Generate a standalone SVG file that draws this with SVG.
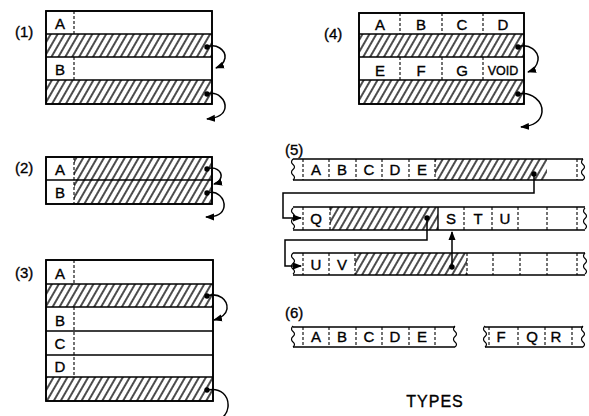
<svg xmlns="http://www.w3.org/2000/svg" width="589" height="416" viewBox="0 0 589 416">
<style>
text{font-family:"Liberation Sans",Arial,sans-serif;font-size:15px;fill:#000;stroke:#000;stroke-width:0.35;text-anchor:middle}
.lbl{text-anchor:start}
.box{fill:#fff;stroke:#000;stroke-width:1.6}
.ln{stroke:#000;stroke-width:1.4;fill:none}
.ds{stroke:#000;stroke-width:1.1;stroke-dasharray:3,2;fill:none}
.ht{fill:url(#h);stroke:none}
.cv{stroke:#000;stroke-width:1.5;fill:none;marker-end:url(#ah)}
.dot{fill:#000}
</style>
<defs>
<pattern id="h" width="6" height="6" patternUnits="userSpaceOnUse" patternTransform="rotate(30)">
<line x1="1" y1="-1" x2="1" y2="7" stroke="#000" stroke-width="1.4"/>
</pattern>
<marker id="ah" markerWidth="9" markerHeight="8" refX="8" refY="4" orient="auto" markerUnits="userSpaceOnUse">
<path d="M0,0.5 L9,4 L0,7.5 Z" fill="#000"/>
</marker>
<path id="wv" d="M0,0 q-3,3 0,5.5 q3,2.5 0,5 q-3,2.5 0,5.5 q3,2.5 0,5" fill="none" stroke="#000" stroke-width="1.2"/>
</defs>

<g id="panel1">
<text class="lbl" x="15" y="37">(1)</text>
<rect class="box" x="46" y="11" width="166" height="93"/>
<rect class="ht" x="46" y="34" width="166" height="23"/>
<rect class="ht" x="46" y="80" width="166" height="24"/>
<path class="ln" d="M46,34H212M46,57H212M46,80H212"/>
<rect x="46" y="11" width="166" height="93" fill="none" stroke="#000" stroke-width="1.6"/>
<path class="ds" d="M74,11V34M74,57V80"/>
<text x="60" y="29">A</text>
<text x="60" y="75">B</text>
<circle class="dot" cx="207" cy="47" r="2.7"/>
<circle class="dot" cx="207" cy="94" r="2.7"/>
</g>

<g id="panel2">
<text class="lbl" x="15" y="173">(2)</text>
<rect class="box" x="46" y="157" width="166" height="47"/>
<rect class="ht" x="74" y="157" width="138" height="47"/>
<path class="ln" d="M46,180H212"/>
<rect x="46" y="157" width="166" height="47" fill="none" stroke="#000" stroke-width="1.6"/>
<path class="ds" d="M74,157V204"/>
<text x="60" y="175">A</text>
<text x="60" y="198">B</text>
<circle class="dot" cx="207" cy="169" r="2.7"/>
<circle class="dot" cx="207" cy="193" r="2.7"/>
</g>

<g id="panel3">
<text class="lbl" x="15" y="278">(3)</text>
<rect class="box" x="46" y="260" width="167" height="141"/>
<rect class="ht" x="46" y="284" width="167" height="23"/>
<rect class="ht" x="46" y="377" width="167" height="24"/>
<path class="ln" d="M46,284H213M46,307H213M46,331H213M46,355H213M46,377H213"/>
<rect x="46" y="260" width="167" height="141" fill="none" stroke="#000" stroke-width="1.6"/>
<path class="ds" d="M74,260V284M74,307V377"/>
<text x="60" y="279">A</text>
<text x="60" y="326">B</text>
<text x="60" y="349">C</text>
<text x="60" y="372">D</text>
<circle class="dot" cx="207" cy="296" r="2.7"/>
<circle class="dot" cx="207" cy="390" r="2.7"/>
</g>

<g id="panel4">
<text class="lbl" x="324" y="39">(4)</text>
<rect class="box" x="359" y="13" width="165" height="91"/>
<rect class="ht" x="359" y="34" width="165" height="23"/>
<rect class="ht" x="359" y="80" width="165" height="24"/>
<path class="ln" d="M359,34H524M359,57H524M359,80H524"/>
<rect x="359" y="13" width="165" height="91" fill="none" stroke="#000" stroke-width="1.6"/>
<path class="ds" d="M400,13V34M442,13V34M483,13V34M400,57V80M442,57V80M483,57V80"/>
<text x="380" y="30">A</text>
<text x="421" y="30">B</text>
<text x="462" y="30">C</text>
<text x="503" y="30">D</text>
<text x="380" y="76">E</text>
<text x="421" y="76">F</text>
<text x="462" y="76">G</text>
<text x="503" y="75" style="font-size:12.5px">VOID</text>
<circle class="dot" cx="518" cy="47" r="2.7"/>
<circle class="dot" cx="518" cy="94" r="2.7"/>
</g>

<g id="panel5">
<text class="lbl" x="285" y="155">(5)</text>
<g id="row5a">
<rect class="ht" x="435" y="159" width="112" height="21"/>
<path class="ln" d="M293,159H583M293,180H583"/>
<use href="#wv" x="293" y="159"/>
<use href="#wv" x="583" y="159"/>
<path class="ds" d="M303,159V180M329,159V180M356,159V180M382,159V180M409,159V180M435,159V180M577,159V180"/>
<text x="316" y="175">A</text>
<text x="342" y="175">B</text>
<text x="369" y="175">C</text>
<text x="395" y="175">D</text>
<text x="422" y="175">E</text>
<circle class="dot" cx="534" cy="174" r="2.7"/>
</g>
<g id="row5b">
<rect class="ht" x="330" y="207" width="108" height="23"/>
<path class="ln" d="M293,207H585M293,230H585"/>
<use href="#wv" x="293" y="208"/>
<use href="#wv" x="585" y="208"/>
<path class="ds" d="M303,207V230M330,207V230M464,207V230M492,207V230M518,207V230M547,207V230M577,207V230"/>
<path class="ln" d="M438,207V230"/>
<text x="316" y="224">Q</text>
<text x="451" y="224">S</text>
<text x="478" y="224">T</text>
<text x="505" y="224">U</text>
<circle class="dot" cx="427" cy="218" r="2.7"/>
</g>
<g id="row5c">
<rect class="ht" x="355" y="253" width="112" height="22"/>
<path class="ln" d="M293,253H585M293,275H585"/>
<use href="#wv" x="293" y="253"/>
<use href="#wv" x="585" y="253"/>
<path class="ds" d="M303,253V275M329,253V275M355,253V275M467,253V275M493,253V275M520,253V275M547,253V275M577,253V275"/>
<text x="316" y="270">U</text>
<text x="342" y="270">V</text>
<circle class="dot" cx="452" cy="267" r="2.7"/>
</g>
</g>

<g id="panel6">
<text class="lbl" x="285" y="318">(6)</text>
<g id="row6a">
<path class="ln" d="M293,327H455M293,347H455"/>
<use href="#wv" x="293" y="326"/>
<use href="#wv" x="455" y="326"/>
<path class="ds" d="M303,327V347M329,327V347M356,327V347M382,327V347M409,327V347M435,327V347"/>
<text x="316" y="342">A</text>
<text x="342" y="342">B</text>
<text x="369" y="342">C</text>
<text x="395" y="342">D</text>
<text x="422" y="342">E</text>
</g>
<g id="row6b">
<path class="ln" d="M485,327H583M485,347H583"/>
<use href="#wv" x="485" y="326"/>
<use href="#wv" x="583" y="326"/>
<path class="ds" d="M489,327V347M518,327V347M545,327V347M572,327V347"/>
<text x="501" y="342">F</text>
<text x="532" y="342">Q</text>
<text x="556" y="342">R</text>
</g>
</g>

<text id="title" x="435" y="407" style="font-size:16px;letter-spacing:1px">TYPES</text>

<g id="connectors">
<path class="cv" d="M207,47 C216,43 226,50 225,58 C224,63 221,66 216,68"/>
<path class="cv" d="M207,94 C218,91 226,100 225,108 C224,114 218,118 207,119"/>
<path class="cv" d="M207,169 C215,166 222,171 221,177 C220,181 218,183 214,184"/>
<path class="cv" d="M207,193 C217,190 225,198 224,207 C223,213 217,217 206,217"/>
<path class="cv" d="M207,296 C219,292 228,300 227,309 C226,315 221,318 214,320"/>
<path class="cv" d="M207,390 C221,387 229,396 228,407 C227,415 222,420 212,422"/>
<path class="cv" d="M518,47 C529,43 539,51 538,60 C537,66 534,70 528,72"/>
<path class="cv" d="M518,94 C532,91 543,102 542,112 C541,121 534,126 521,127"/>
<path class="cv" d="M534,174 V193 H283 V218 H301"/>
<path class="cv" d="M427,218 V240 H285 V266 H301"/>
<path class="cv" d="M452,267 V232"/>
</g>
</svg>
